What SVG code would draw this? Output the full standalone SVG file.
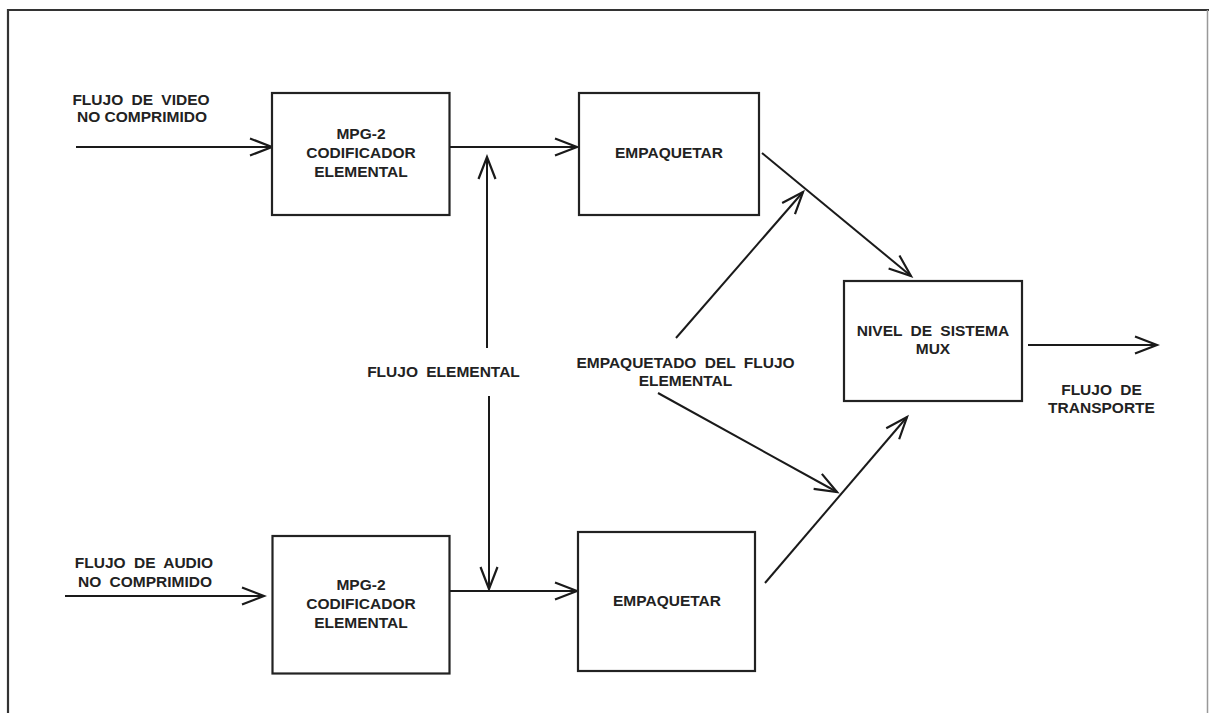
<svg xmlns="http://www.w3.org/2000/svg" width="1209" height="713" viewBox="0 0 1209 713">
<defs>
<style>
.box{fill:#fff;stroke:#222;stroke-width:2.2}
.ln{fill:none;stroke:#1a1a1a;stroke-width:2}
text{font-family:"Liberation Sans",Arial,sans-serif;font-size:15.5px;font-weight:bold;fill:#222;text-anchor:middle;word-spacing:4px}
</style>
<marker id="ah" markerUnits="userSpaceOnUse" markerWidth="26" markerHeight="20" viewBox="0 0 26 20" refX="23" refY="10" orient="auto">
<path d="M1,1.5 L23,10 L1,18.5" fill="none" stroke="#1a1a1a" stroke-width="2.2"/>
</marker>
</defs>
<rect width="1209" height="713" fill="#fff"/>
<g id="frame">
<path d="M8,713 L8,10 L1209,10" fill="none" stroke="#333" stroke-width="2.2"/>
<path d="M1207.5,10 L1207.5,713" fill="none" stroke="#999" stroke-width="1.5"/>
</g>
<g id="connectors">
<line class="ln" x1="76" y1="147" x2="272" y2="147" marker-end="url(#ah)"/>
<line class="ln" x1="450" y1="147" x2="577" y2="147" marker-end="url(#ah)"/>
<line class="ln" x1="487" y1="348" x2="487" y2="157" marker-end="url(#ah)"/>
<line class="ln" x1="489" y1="396" x2="489" y2="589" marker-end="url(#ah)"/>
<line class="ln" x1="65" y1="596" x2="264" y2="596" marker-end="url(#ah)"/>
<line class="ln" x1="450" y1="591" x2="577" y2="591" marker-end="url(#ah)"/>
<line class="ln" x1="762" y1="153" x2="911" y2="276" marker-end="url(#ah)"/>
<line class="ln" x1="676" y1="338" x2="803" y2="192" marker-end="url(#ah)"/>
<line class="ln" x1="658" y1="393" x2="837" y2="492" marker-end="url(#ah)"/>
<line class="ln" x1="765" y1="583" x2="907" y2="417" marker-end="url(#ah)"/>
<line class="ln" x1="1028" y1="345" x2="1157" y2="345" marker-end="url(#ah)"/>
</g>
<g id="lbl-video">
<text x="141" y="105">FLUJO DE VIDEO</text>
<text x="142" y="122" style="word-spacing:0">NO COMPRIMIDO</text>
</g>
<g id="lbl-audio">
<text x="144" y="568">FLUJO DE AUDIO</text>
<text x="145" y="587">NO COMPRIMIDO</text>
</g>
<g id="enc-video">
<rect class="box" x="272" y="93" width="177.5" height="122"/>
<text x="361" y="139">MPG-2</text>
<text x="361" y="158">CODIFICADOR</text>
<text x="361" y="177">ELEMENTAL</text>
</g>
<g id="pack-video">
<rect class="box" x="579" y="93" width="180" height="122"/>
<text x="669" y="158">EMPAQUETAR</text>
</g>
<g id="enc-audio">
<rect class="box" x="272.5" y="536" width="177" height="137.5"/>
<text x="361" y="590">MPG-2</text>
<text x="361" y="609">CODIFICADOR</text>
<text x="361" y="628">ELEMENTAL</text>
</g>
<g id="pack-audio">
<rect class="box" x="578" y="532" width="177" height="139"/>
<text x="667" y="606">EMPAQUETAR</text>
</g>
<g id="mux">
<rect class="box" x="844" y="281" width="178" height="120"/>
<text x="933" y="336">NIVEL DE SISTEMA</text>
<text x="933" y="354">MUX</text>
</g>
<g id="lbl-elemental">
<text x="443.5" y="377">FLUJO ELEMENTAL</text>
</g>
<g id="lbl-pes">
<text x="685.5" y="368">EMPAQUETADO DEL FLUJO</text>
<text x="685.5" y="386">ELEMENTAL</text>
</g>
<g id="lbl-ts">
<text x="1101.5" y="395">FLUJO DE</text>
<text x="1101.5" y="413">TRANSPORTE</text>
</g>
</svg>
